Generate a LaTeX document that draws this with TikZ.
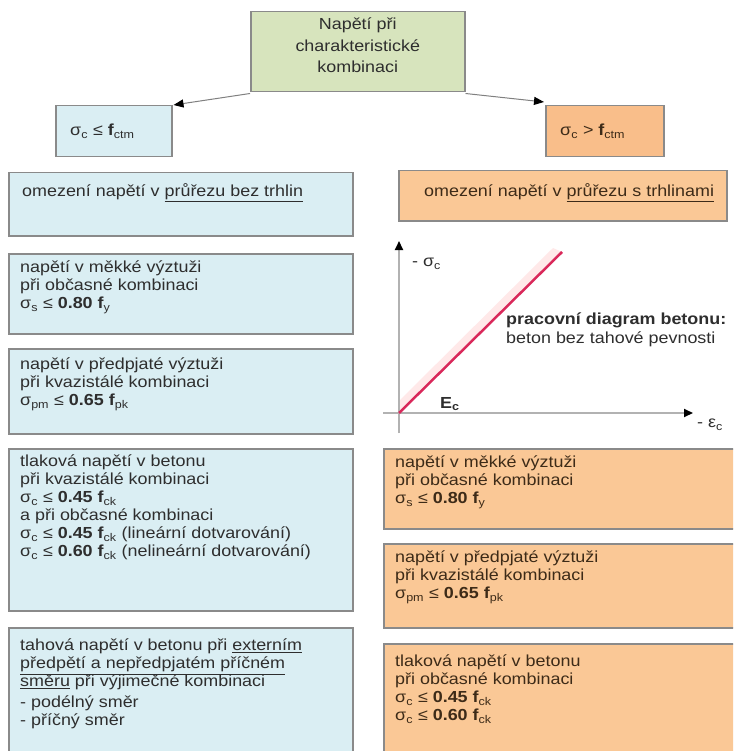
\documentclass[tikz,border=0pt]{standalone}
\usepackage{fontspec}
\setmainfont{Liberation Sans}[FakeStretch=1.12]
\usetikzlibrary{arrows.meta}
\definecolor{greenfill}{HTML}{D7E4BD}
\definecolor{cyanfill}{HTML}{DAEEF3}
\definecolor{orfill}{HTML}{FAC896}
\definecolor{orfilltwo}{HTML}{F9BE8A}
\definecolor{bordergray}{HTML}{8A8A8A}
\definecolor{txtgray}{HTML}{2E2E2E}
\definecolor{txtbrown}{HTML}{3D2B18}
\definecolor{redline}{HTML}{D9285A}
\newcommand\sbs[1]{\textsubscript{#1}}
\tikzset{
  basebox/.style={draw=bordergray, line width=1.5pt, anchor=north west, inner sep=0pt},
  cbox/.style={basebox, fill=cyanfill},
  obox/.style={basebox, fill=orfill},
  gbox/.style={basebox, fill=greenfill},
  btxt/.style={anchor=north west, align=left, inner sep=0pt, font=\fontsize{16}{18}\selectfont, text=txtgray},
  otxt/.style={btxt, text=txtbrown},
  arr/.style={draw=gray, line width=1pt, -{Triangle[length=10pt,width=8pt,fill=black,color=black]}},
  axis/.style={draw=gray!60, line width=2pt, -{Triangle[length=9pt,width=8pt,fill=black,color=black]}},
}
\begin{document}
\begin{tikzpicture}[x=1pt,y=-1pt]
\useasboundingbox (0,0) rectangle (733,751);
\clip (0,0) rectangle (733,751);
\fill[white] (0,0) rectangle (733,751);

% top box
\node[gbox, minimum width=214pt, minimum height=80pt] (T) at (250,11) {};
\node[btxt, anchor=north, align=center, font=\fontsize{16}{21.5}\selectfont]
      (Tt) at ([yshift=-7pt]T.north) {Napětí při\\charakteristické\\kombinaci};

% small boxes
\node[cbox, minimum width=116pt, minimum height=51pt] (SL) at (55,105) {};
\node[btxt, anchor=west] (SLt) at ([xshift=15pt]SL.west) {σ\sbs{c} ≤ \textbf{f}\sbs{ctm}};
\node[obox, fill=orfilltwo, minimum width=118pt, minimum height=51pt] (SR) at (545,105) {};
\node[otxt, anchor=west] (SRt) at ([xshift=15pt]SR.west) {σ\sbs{c} > \textbf{f}\sbs{ctm}};

\draw[arr] ([yshift=-1pt]T.south west) -- ([xshift=1pt]SL.north east);
\draw[arr] ([yshift=-1pt]T.south east) -- ([xshift=-1pt,yshift=3pt]SR.north west);

% left column
\node[cbox, minimum width=344pt, minimum height=63pt] (L1) at (8,172) {};
\node[btxt] (L1t) at ([xshift=14pt,yshift=-11pt]L1.north west)
  {omezení napětí v \underline{průřezu bez trhlin}};

\node[cbox, minimum width=344pt, minimum height=80pt] (L2) at (8,253) {};
\node[btxt] (L2t) at ([xshift=12pt,yshift=-8pt]L2.north west)
  {napětí v měkké výztuži\\při občasné kombinaci\\σ\sbs{s} ≤ \textbf{0.80 f}\sbs{y}};

\node[cbox, minimum width=344pt, minimum height=85pt] (L3) at (8,348) {};
\node[btxt] (L3t) at ([xshift=12pt,yshift=-10pt]L3.north west)
  {napětí v předpjaté výztuži\\při kvazistálé kombinaci\\σ\sbs{pm} ≤ \textbf{0.65 f}\sbs{pk}};

\node[cbox, minimum width=344pt, minimum height=162pt] (L4) at (8,448) {};
\node[btxt] (L4t) at ([xshift=12pt,yshift=-7pt]L4.north west)
  {tlaková napětí v betonu\\při kvazistálé kombinaci\\σ\sbs{c} ≤ \textbf{0.45 f}\sbs{ck}\\a při občasné kombinaci\\σ\sbs{c} ≤ \textbf{0.45 f}\sbs{ck} (lineární dotvarování)\\σ\sbs{c} ≤ \textbf{0.60 f}\sbs{ck} (nelineární dotvarování)};

\node[cbox, minimum width=344pt, minimum height=140pt] (L5) at (8,627) {};
\node[btxt] (L5t) at ([xshift=12pt,yshift=-12pt]L5.north west)
  {tahová napětí v betonu při \underline{externím}\\\underline{předpětí a nepředpjatém příčném}\\\underline{směru} při výjimečné kombinaci\\[3pt]- podélný směr\\- příčný směr};

% right column
\node[obox, minimum width=328pt, minimum height=50pt] (R0) at (398,170) {};
\node[otxt] (R0t) at ([xshift=26pt,yshift=-13pt]R0.north west)
  {omezení napětí v \underline{průřezu s trhlinami}};

% diagram
\coordinate (O) at (399,413);
\coordinate (Ytop) at (399,241);
\coordinate (Ybot) at (399,433);
\coordinate (Xl) at (383,413);
\coordinate (Xr) at (693,413);
\coordinate (P) at (562,252);
\fill[pink!35] (O) -- (P) -- ([shift={(-9,-4)}]P) -- ([shift={(0,-12)}]O) -- cycle;
\draw[axis] (Ybot) -- (Ytop);
\draw[axis] (Xl) -- (Xr);
\draw[draw=redline, line width=2.5pt] (O) -- (P);
\node[btxt, anchor=west] (sig) at (412,264) {- σ\sbs{c}};
\node[btxt, anchor=west] (eps) at (697,425) {- ε\sbs{c}};
\node[btxt, anchor=west] (Ec) at (440,404) {\textbf{E\sbs{c}}};
\node[btxt, anchor=west] (pd) at (506,320) {\textbf{pracovní diagram betonu:}};
\node[btxt, anchor=west] (bb) at (506,339) {beton bez tahové pevnosti};

\node[obox, minimum width=360pt, minimum height=80pt] (R1) at (383,448) {};
\node[otxt] (R1t) at ([xshift=12pt,yshift=-8pt]R1.north west)
  {napětí v měkké výztuži\\při občasné kombinaci\\σ\sbs{s} ≤ \textbf{0.80 f}\sbs{y}};

\node[obox, minimum width=360pt, minimum height=84pt] (R2) at (383,543) {};
\node[otxt] (R2t) at ([xshift=12pt,yshift=-8pt]R2.north west)
  {napětí v předpjaté výztuži\\při kvazistálé kombinaci\\σ\sbs{pm} ≤ \textbf{0.65 f}\sbs{pk}};

\node[obox, minimum width=360pt, minimum height=130pt] (R3) at (383,643) {};
\node[otxt] (R3t) at ([xshift=12pt,yshift=-12pt]R3.north west)
  {tlaková napětí v betonu\\při občasné kombinaci\\σ\sbs{c} ≤ \textbf{0.45 f}\sbs{ck}\\σ\sbs{c} ≤ \textbf{0.60 f}\sbs{ck}};
\end{tikzpicture}
\end{document}
